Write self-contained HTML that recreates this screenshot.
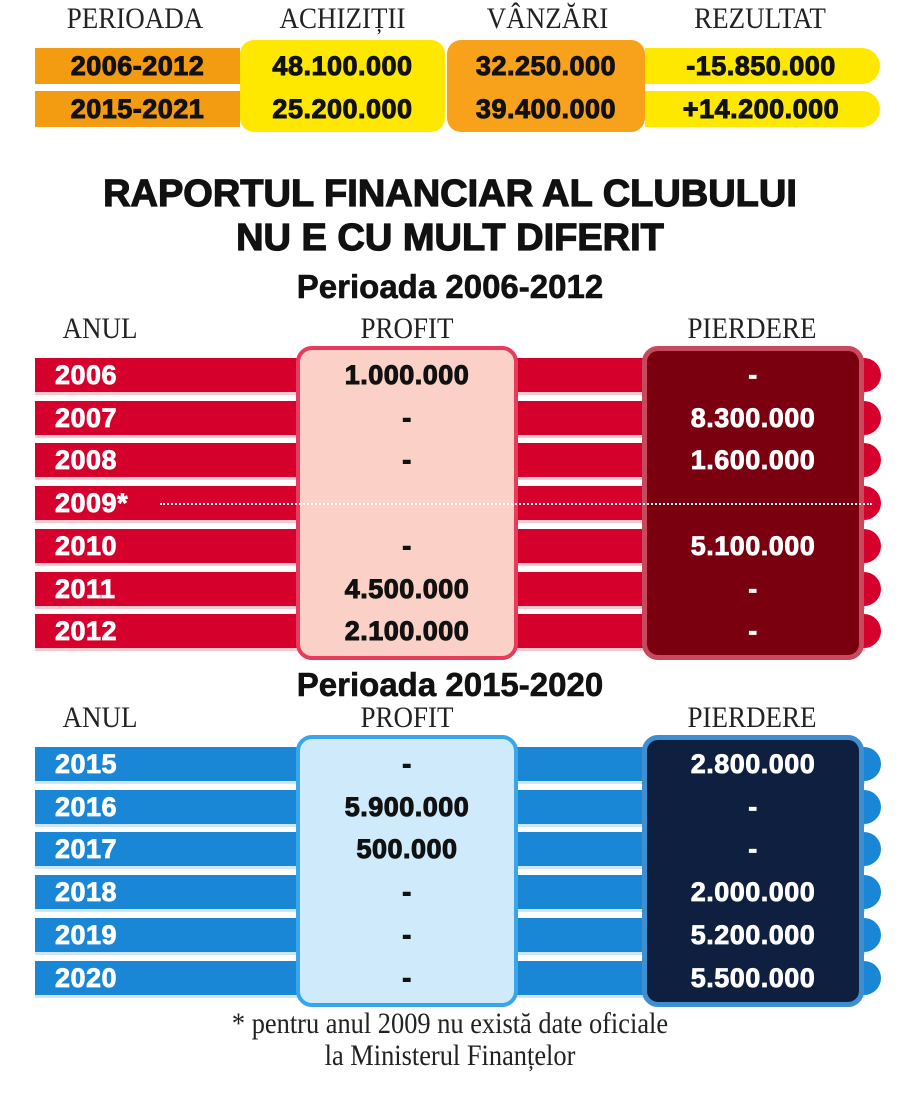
<!DOCTYPE html>
<html><head><meta charset="utf-8">
<style>
body{margin:0;width:900px;height:1100px;background:#fff;position:relative;overflow:hidden;font-family:"Liberation Sans",sans-serif}
.abs{position:absolute}
.hdr{position:absolute;font-family:"Liberation Serif",serif;font-size:30px;color:#222;text-align:center;transform:scaleX(0.9)}
.title{position:absolute;left:0;width:900px;text-align:center;font-weight:900;color:#111;-webkit-text-stroke:1.2px #111}
</style></head>
<body>
<div class="hdr" style="left:35px;top:2px;width:200px">PERIOADA</div>
<div class="hdr" style="left:245px;top:2px;width:195px">ACHIZIȚII</div>
<div class="hdr" style="left:450px;top:2px;width:195px">VÂNZĂRI</div>
<div class="hdr" style="left:655px;top:2px;width:210px">REZULTAT</div>
<div id="top"></div>

<div class="title" style="top:172px;font-size:38px;line-height:44px">RAPORTUL FINANCIAR AL CLUBULUI<br>NU E CU MULT DIFERIT</div>
<div class="title" style="top:268px;font-size:33px;-webkit-text-stroke:0.6px #111">Perioada 2006-2012</div>
<div class="hdr" style="left:40px;top:312px;width:120px">ANUL</div>
<div class="hdr" style="left:296px;top:312px;width:222px">PROFIT</div>
<div class="hdr" style="left:642px;top:312px;width:220px">PIERDERE</div>
<div id="t1"></div>

<div class="title" style="top:666px;font-size:33px;-webkit-text-stroke:0.6px #111">Perioada 2015-2020</div>
<div class="hdr" style="left:40px;top:701px;width:120px">ANUL</div>
<div class="hdr" style="left:296px;top:701px;width:222px">PROFIT</div>
<div class="hdr" style="left:642px;top:701px;width:220px">PIERDERE</div>
<div id="t2"></div>

<div class="abs" style="left:0;top:1008px;width:900px;text-align:center;font-family:'Liberation Serif',serif;font-size:30px;line-height:32px;color:#222;transform:scaleX(0.88)">* pentru anul 2009 nu există date oficiale<br>la Ministerul Finanțelor</div>

<script>
const summaryPeriods=["2006-2012","2015-2021"];
const summaryAchizitii=["48.100.000","25.200.000"];
const summaryVanzari=["32.250.000","39.400.000"];
const summaryRezultat=["-15.850.000","+14.200.000"];

const years1=["2006","2007","2008","2009*","2010","2011","2012"];
const profit1=["1.000.000","-","-","","-","4.500.000","2.100.000"];
const loss1=["-","8.300.000","1.600.000","","5.100.000","-","-"];

const years2=["2015","2016","2017","2018","2019","2020"];
const profit2=["-","5.900.000","500.000","-","-","-"];
const loss2=["2.800.000","-","-","2.000.000","5.200.000","5.500.000"];

const NUM='font-weight:900;font-size:27px;letter-spacing:0.5px;';
function div(parent,css,name,text){
  const d=document.createElement('div');
  d.style.cssText='position:absolute;'+css;
  
  
  if(text!==undefined) d.textContent=text;
  parent.appendChild(d);return d;
}
(function(){
  const p=document.getElementById('top');
  const rowY=i=>48+i*43;
  div(p,'left:240px;top:40px;width:205px;height:92px;background:#ffe800;border-radius:14px','achizitii-column-bg');
  div(p,'left:447px;top:40px;width:198px;height:92px;background:#f7a21a;border-radius:14px','vanzari-column-bg');
  summaryPeriods.forEach((per,i)=>{
    const y=rowY(i);
    div(p,`left:35px;top:${y}px;width:205px;height:36px;background:#f39c12`,'summary-row-period-bg');
    div(p,`left:645px;top:${y}px;width:235px;height:36px;background:#ffe800;border-radius:0 18px 18px 0`,'summary-row-result-bg');
    const st=NUM+'-webkit-text-stroke:1px #111;line-height:36px;text-align:center;color:#111;top:'+y+'px;';
    div(p,st+'left:35px;width:205px','summary-period',per);
    div(p,st+'left:240px;width:205px','summary-achizitii',summaryAchizitii[i]);
    div(p,st+'left:447px;width:198px','summary-vanzari',summaryVanzari[i]);
    div(p,st+'left:650px;width:222px','summary-rezultat',summaryRezultat[i]);
  });
})();

function table(id,years,profit,loss,top,c){
  const p=document.getElementById(id);
  const pitch=42.7, h=34, n=years.length;
  const rowY=i=>top+i*pitch;
  const boxTop=top-12, boxH=(n-1)*pitch+h+24;
  years.forEach((yr,i)=>{
    const y=rowY(i);
    div(p,`left:35px;top:${y}px;width:846px;height:${h}px;background:${c.bar};border-radius:0 17px 17px 0`,'row-bar-'+yr.replace('*',''));
    div(p,`left:35px;top:${y+h}px;width:830px;height:3px;background:${c.light}`,'row-underline');
  });
  div(p,`left:296px;top:${boxTop}px;width:222px;height:${boxH}px;background:${c.pbg};border:4px solid ${c.pborder};box-sizing:border-box;border-radius:16px`,'profit-column');
  div(p,`left:642px;top:${boxTop}px;width:222px;height:${boxH}px;background:${c.lbg};border:5px solid ${c.lborder};box-sizing:border-box;border-radius:16px`,'pierdere-column');
  years.forEach((yr,i)=>{
    const y=rowY(i);
    div(p,NUM+`-webkit-text-stroke:0.8px #fff;left:55px;top:${y}px;line-height:${h}px;color:#fff`,'year-label',yr);
    if(yr.includes('*')) div(p,`left:160px;top:${y+h/2}px;width:712px;border-top:2px dotted #fff`,'no-data-dotted-line');
    div(p,NUM+`-webkit-text-stroke:1px #111;left:296px;width:222px;top:${y}px;line-height:${h}px;text-align:center;color:#111`,'profit-value',profit[i]);
    div(p,NUM+`-webkit-text-stroke:0.8px #fff;left:642px;width:222px;top:${y}px;line-height:${h}px;text-align:center;color:#fff`,'pierdere-value',loss[i]);
  });
}
table('t1',years1,profit1,loss1,358,{bar:'#d5002b',light:'#f7c9cf',pbg:'#fbd0c6',pborder:'#e83a5a',lbg:'#7a0010',lborder:'#c8485e'});
table('t2',years2,profit2,loss2,747,{bar:'#1a86d6',light:'#cfe6f7',pbg:'#cfeafb',pborder:'#38a6e8',lbg:'#0e1f3f',lborder:'#3f8fd0'});
</script>
</body></html>
